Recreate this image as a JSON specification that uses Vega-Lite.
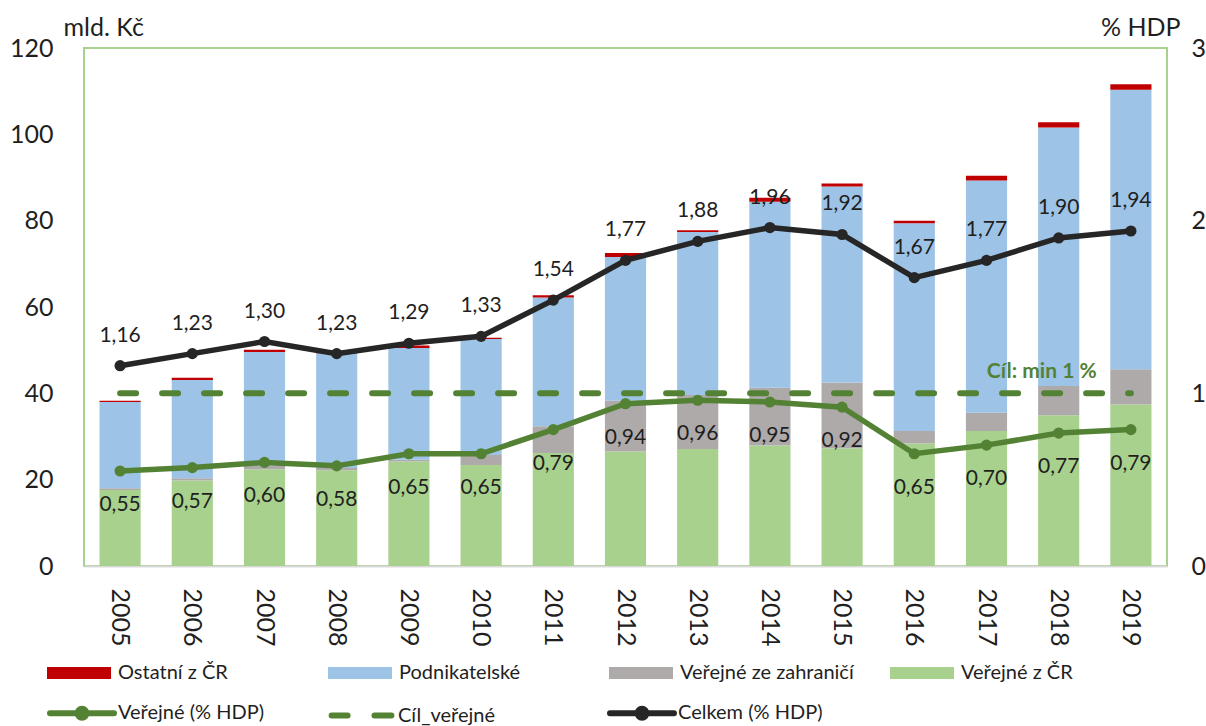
{
  "$schema": "https://vega.github.io/schema/vega-lite/v6.json",
  "width": 1083,
  "height": 518,
  "autosize": {"type": "none"},
  "padding": {"left": 84, "top": 48, "right": 39, "bottom": 160},
  "background": "white",
  "config": {
    "font": "Lato",
    "view": {"stroke": "#a9d18e", "strokeWidth": 2},
    "locale": {"number": {"decimal": ",", "thousands": " ", "grouping": [3], "currency": ["", " Kč"]}},
    "axis": {"labelColor": "#1f1f1f", "titleColor": "#1f1f1f", "labelFont": "Lato", "titleFont": "Lato"},
    "legend": {"labelFont": "Lato", "labelColor": "#1f1f1f", "labelLimit": 400}
  },
  "datasets": {
    "sloupce": [
      {"rok": "2005", "kategorie": "Veřejné z ČR", "hodnota": 17.6},
      {"rok": "2005", "kategorie": "Veřejné ze zahraničí", "hodnota": 0.4},
      {"rok": "2005", "kategorie": "Podnikatelské", "hodnota": 20.0},
      {"rok": "2005", "kategorie": "Ostatní z ČR", "hodnota": 0.3},
      {"rok": "2006", "kategorie": "Veřejné z ČR", "hodnota": 19.8},
      {"rok": "2006", "kategorie": "Veřejné ze zahraničí", "hodnota": 0.5},
      {"rok": "2006", "kategorie": "Podnikatelské", "hodnota": 22.8},
      {"rok": "2006", "kategorie": "Ostatní z ČR", "hodnota": 0.5},
      {"rok": "2007", "kategorie": "Veřejné z ČR", "hodnota": 22.4},
      {"rok": "2007", "kategorie": "Veřejné ze zahraničí", "hodnota": 0.8},
      {"rok": "2007", "kategorie": "Podnikatelské", "hodnota": 26.4},
      {"rok": "2007", "kategorie": "Ostatní z ČR", "hodnota": 0.5},
      {"rok": "2008", "kategorie": "Veřejné z ČR", "hodnota": 22.2},
      {"rok": "2008", "kategorie": "Veřejné ze zahraničí", "hodnota": 0.5},
      {"rok": "2008", "kategorie": "Podnikatelské", "hodnota": 26.6},
      {"rok": "2008", "kategorie": "Ostatní z ČR", "hodnota": 0.1},
      {"rok": "2009", "kategorie": "Veřejné z ČR", "hodnota": 24.2},
      {"rok": "2009", "kategorie": "Veřejné ze zahraničí", "hodnota": 0.4},
      {"rok": "2009", "kategorie": "Podnikatelské", "hodnota": 25.9},
      {"rok": "2009", "kategorie": "Ostatní z ČR", "hodnota": 0.6},
      {"rok": "2010", "kategorie": "Veřejné z ČR", "hodnota": 23.4},
      {"rok": "2010", "kategorie": "Veřejné ze zahraničí", "hodnota": 2.3},
      {"rok": "2010", "kategorie": "Podnikatelské", "hodnota": 26.9},
      {"rok": "2010", "kategorie": "Ostatní z ČR", "hodnota": 0.3},
      {"rok": "2011", "kategorie": "Veřejné z ČR", "hodnota": 26.2},
      {"rok": "2011", "kategorie": "Veřejné ze zahraničí", "hodnota": 6.2},
      {"rok": "2011", "kategorie": "Podnikatelské", "hodnota": 29.8},
      {"rok": "2011", "kategorie": "Ostatní z ČR", "hodnota": 0.5},
      {"rok": "2012", "kategorie": "Veřejné z ČR", "hodnota": 26.5},
      {"rok": "2012", "kategorie": "Veřejné ze zahraničí", "hodnota": 11.8},
      {"rok": "2012", "kategorie": "Podnikatelské", "hodnota": 33.3},
      {"rok": "2012", "kategorie": "Ostatní z ČR", "hodnota": 0.9},
      {"rok": "2013", "kategorie": "Veřejné z ČR", "hodnota": 27.1},
      {"rok": "2013", "kategorie": "Veřejné ze zahraničí", "hodnota": 12.5},
      {"rok": "2013", "kategorie": "Podnikatelské", "hodnota": 37.8},
      {"rok": "2013", "kategorie": "Ostatní z ČR", "hodnota": 0.4},
      {"rok": "2014", "kategorie": "Veřejné z ČR", "hodnota": 27.9},
      {"rok": "2014", "kategorie": "Veřejné ze zahraničí", "hodnota": 13.4},
      {"rok": "2014", "kategorie": "Podnikatelské", "hodnota": 43.1},
      {"rok": "2014", "kategorie": "Ostatní z ČR", "hodnota": 0.9},
      {"rok": "2015", "kategorie": "Veřejné z ČR", "hodnota": 27.3},
      {"rok": "2015", "kategorie": "Veřejné ze zahraničí", "hodnota": 15.2},
      {"rok": "2015", "kategorie": "Podnikatelské", "hodnota": 45.4},
      {"rok": "2015", "kategorie": "Ostatní z ČR", "hodnota": 0.7},
      {"rok": "2016", "kategorie": "Veřejné z ČR", "hodnota": 28.4},
      {"rok": "2016", "kategorie": "Veřejné ze zahraničí", "hodnota": 2.9},
      {"rok": "2016", "kategorie": "Podnikatelské", "hodnota": 48.1},
      {"rok": "2016", "kategorie": "Ostatní z ČR", "hodnota": 0.6},
      {"rok": "2017", "kategorie": "Veřejné z ČR", "hodnota": 31.3},
      {"rok": "2017", "kategorie": "Veřejné ze zahraničí", "hodnota": 4.2},
      {"rok": "2017", "kategorie": "Podnikatelské", "hodnota": 53.8},
      {"rok": "2017", "kategorie": "Ostatní z ČR", "hodnota": 1.1},
      {"rok": "2018", "kategorie": "Veřejné z ČR", "hodnota": 34.9},
      {"rok": "2018", "kategorie": "Veřejné ze zahraničí", "hodnota": 6.8},
      {"rok": "2018", "kategorie": "Podnikatelské", "hodnota": 59.9},
      {"rok": "2018", "kategorie": "Ostatní z ČR", "hodnota": 1.2},
      {"rok": "2019", "kategorie": "Veřejné z ČR", "hodnota": 37.4},
      {"rok": "2019", "kategorie": "Veřejné ze zahraničí", "hodnota": 8.2},
      {"rok": "2019", "kategorie": "Podnikatelské", "hodnota": 64.7},
      {"rok": "2019", "kategorie": "Ostatní z ČR", "hodnota": 1.3}
    ],
    "krivky": [
      {"rok": "2005", "rada": "Veřejné (% HDP)", "hodnota": 0.55},
      {"rok": "2006", "rada": "Veřejné (% HDP)", "hodnota": 0.57},
      {"rok": "2007", "rada": "Veřejné (% HDP)", "hodnota": 0.60},
      {"rok": "2008", "rada": "Veřejné (% HDP)", "hodnota": 0.58},
      {"rok": "2009", "rada": "Veřejné (% HDP)", "hodnota": 0.65},
      {"rok": "2010", "rada": "Veřejné (% HDP)", "hodnota": 0.65},
      {"rok": "2011", "rada": "Veřejné (% HDP)", "hodnota": 0.79},
      {"rok": "2012", "rada": "Veřejné (% HDP)", "hodnota": 0.94},
      {"rok": "2013", "rada": "Veřejné (% HDP)", "hodnota": 0.96},
      {"rok": "2014", "rada": "Veřejné (% HDP)", "hodnota": 0.95},
      {"rok": "2015", "rada": "Veřejné (% HDP)", "hodnota": 0.92},
      {"rok": "2016", "rada": "Veřejné (% HDP)", "hodnota": 0.65},
      {"rok": "2017", "rada": "Veřejné (% HDP)", "hodnota": 0.70},
      {"rok": "2018", "rada": "Veřejné (% HDP)", "hodnota": 0.77},
      {"rok": "2019", "rada": "Veřejné (% HDP)", "hodnota": 0.79},
      {"rok": "2005", "rada": "Celkem (% HDP)", "hodnota": 1.16},
      {"rok": "2006", "rada": "Celkem (% HDP)", "hodnota": 1.23},
      {"rok": "2007", "rada": "Celkem (% HDP)", "hodnota": 1.30},
      {"rok": "2008", "rada": "Celkem (% HDP)", "hodnota": 1.23},
      {"rok": "2009", "rada": "Celkem (% HDP)", "hodnota": 1.29},
      {"rok": "2010", "rada": "Celkem (% HDP)", "hodnota": 1.33},
      {"rok": "2011", "rada": "Celkem (% HDP)", "hodnota": 1.54},
      {"rok": "2012", "rada": "Celkem (% HDP)", "hodnota": 1.77},
      {"rok": "2013", "rada": "Celkem (% HDP)", "hodnota": 1.88},
      {"rok": "2014", "rada": "Celkem (% HDP)", "hodnota": 1.96},
      {"rok": "2015", "rada": "Celkem (% HDP)", "hodnota": 1.92},
      {"rok": "2016", "rada": "Celkem (% HDP)", "hodnota": 1.67},
      {"rok": "2017", "rada": "Celkem (% HDP)", "hodnota": 1.77},
      {"rok": "2018", "rada": "Celkem (% HDP)", "hodnota": 1.90},
      {"rok": "2019", "rada": "Celkem (% HDP)", "hodnota": 1.94},
      {"rok": "2005", "rada": "Cíl_veřejné", "hodnota": 1},
      {"rok": "2006", "rada": "Cíl_veřejné", "hodnota": 1},
      {"rok": "2007", "rada": "Cíl_veřejné", "hodnota": 1},
      {"rok": "2008", "rada": "Cíl_veřejné", "hodnota": 1},
      {"rok": "2009", "rada": "Cíl_veřejné", "hodnota": 1},
      {"rok": "2010", "rada": "Cíl_veřejné", "hodnota": 1},
      {"rok": "2011", "rada": "Cíl_veřejné", "hodnota": 1},
      {"rok": "2012", "rada": "Cíl_veřejné", "hodnota": 1},
      {"rok": "2013", "rada": "Cíl_veřejné", "hodnota": 1},
      {"rok": "2014", "rada": "Cíl_veřejné", "hodnota": 1},
      {"rok": "2015", "rada": "Cíl_veřejné", "hodnota": 1},
      {"rok": "2016", "rada": "Cíl_veřejné", "hodnota": 1},
      {"rok": "2017", "rada": "Cíl_veřejné", "hodnota": 1},
      {"rok": "2018", "rada": "Cíl_veřejné", "hodnota": 1},
      {"rok": "2019", "rada": "Cíl_veřejné", "hodnota": 1}
    ],
    "popisky": [
      {"rok": "2018", "hodnota": 1, "popis": "Cíl: min 1 %"}
    ]
  },
  "layer": [
    {
      "data": {"name": "sloupce"},
      "transform": [
        {"calculate": "indexof(['Veřejné z ČR', 'Veřejné ze zahraničí', 'Podnikatelské', 'Ostatní z ČR'], datum.kategorie)", "as": "poradi"}
      ],
      "mark": {"type": "bar"},
      "encoding": {
        "x": {
          "field": "rok", "type": "ordinal",
          "scale": {"paddingInner": 0.43, "paddingOuter": 0.215},
          "axis": {"title": null, "labelAngle": 90, "labelAlign": "left", "labelBaseline": "middle", "labelFontSize": 25, "labelPadding": 22, "ticks": false, "tickSize": 0, "domainColor": "#d9d9d9", "domainWidth": 2}
        },
        "y": {
          "field": "hodnota", "type": "quantitative", "aggregate": "sum", "stack": "zero",
          "scale": {"domain": [0, 120], "nice": false},
          "axis": {"title": "mld. Kč", "titleAngle": 0, "titleAlign": "left", "titleBaseline": "middle", "titleX": -21, "titleY": -21, "titleFontSize": 25, "titleFontWeight": "normal", "labelFontSize": 25, "labelPadding": 31, "ticks": false, "tickSize": 0, "domain": false, "grid": false, "values": [0, 20, 40, 60, 80, 100, 120]}
        },
        "fill": {
          "field": "kategorie", "type": "nominal",
          "scale": {"domain": ["Ostatní z ČR", "Podnikatelské", "Veřejné ze zahraničí", "Veřejné z ČR"], "range": ["#c00000", "#9dc3e6", "#aeaaaa", "#a9d18e"]},
          "legend": {"orient": "none", "legendX": -37, "legendY": 593, "direction": "horizontal", "columns": 4, "title": null, "symbolType": "M-1,-0.19H1V0.19H-1Z", "symbolSize": 4096, "symbolStrokeWidth": 0, "symbolOpacity": 1, "labelFontSize": 20, "labelOffset": 7, "labelLimit": 400, "columnPadding": 36, "gridAlign": "all"}
        },
        "order": {"field": "poradi", "type": "quantitative", "sort": "ascending"}
      }
    },
    {
      "data": {"name": "krivky"},
      "encoding": {
        "x": {"field": "rok", "type": "ordinal"},
        "y": {
          "field": "hodnota", "type": "quantitative",
          "scale": {"domain": [0, 3], "nice": false},
          "axis": {"orient": "right", "title": "% HDP", "titleAngle": 0, "titleAlign": "right", "titleBaseline": "middle", "titleX": 13, "titleY": -21, "titleFontSize": 25, "titleFontWeight": "normal", "labelFontSize": 25, "labelPadding": 24, "ticks": false, "tickSize": 0, "domain": false, "grid": false, "values": [0, 1, 2, 3], "format": "d"}
        }
      },
      "layer": [
        {
          "transform": [{"filter": "datum.rada === 'Cíl_veřejné'"}],
          "mark": {"type": "line", "strokeWidth": 6, "strokeDash": [16, 26], "strokeCap": "round"},
          "encoding": {
            "stroke": {
              "field": "rada", "type": "nominal",
              "scale": {"domain": ["Veřejné (% HDP)", "Cíl_veřejné", "Celkem (% HDP)"], "range": ["#548235", "#548235", "#262626"]},
              "legend": {
                "orient": "none", "legendX": -37, "legendY": 630, "direction": "horizontal", "columns": 3, "title": null,
                "symbolSize": 4096, "symbolStrokeWidth": 6, "labelFontSize": 20, "labelOffset": 1, "labelLimit": 400, "columnPadding": 54, "gridAlign": "all",
                "encode": {
                  "symbols": {
                    "update": {
                      "shape": {"signal": "datum.value === 'Cíl_veřejné' ? 'M-0.95,0H-0.45M0.39,0H0.92' : 'M-1,0H1M0.14,0A0.14,0.14,0,1,1,-0.14,0A0.14,0.14,0,1,1,0.14,0'"},
                      "fill": {"signal": "datum.value === 'Celkem (% HDP)' ? '#262626' : '#548235'"},
                      "strokeCap": {"value": "round"},
                      "opacity": {"value": 1}
                    }
                  }
                }
              }
            }
          }
        },
        {
          "transform": [{"filter": "datum.rada !== 'Cíl_veřejné'"}],
          "mark": {"type": "line", "strokeWidth": 5.5},
          "encoding": {
            "stroke": {"field": "rada", "type": "nominal"}
          }
        },
        {
          "transform": [{"filter": "datum.rada !== 'Cíl_veřejné'"}],
          "mark": {"type": "point", "filled": true, "size": 125, "opacity": 1, "shape": "circle"},
          "encoding": {
            "fill": {"condition": {"test": "datum.rada === 'Celkem (% HDP)'", "value": "#262626"}, "value": "#548235"}
          }
        },
        {
          "transform": [{"filter": "datum.rada === 'Celkem (% HDP)'"}],
          "mark": {"type": "text", "fontSize": 21, "baseline": "alphabetic", "align": "center", "dy": -24, "color": "#1f1f1f"},
          "encoding": {"text": {"field": "hodnota", "type": "quantitative", "format": ".2f"}}
        },
        {
          "transform": [{"filter": "datum.rada === 'Veřejné (% HDP)'"}],
          "mark": {"type": "text", "fontSize": 21, "baseline": "alphabetic", "align": "center", "dy": 40, "color": "#1f1f1f"},
          "encoding": {"text": {"field": "hodnota", "type": "quantitative", "format": ".2f"}}
        },
        {
          "data": {"name": "popisky"},
          "mark": {"type": "text", "fontSize": 21, "fontWeight": "bold", "baseline": "alphabetic", "align": "center", "dx": -17, "dy": -15, "color": "#548235"},
          "encoding": {"text": {"field": "popis", "type": "nominal"}}
        }
      ]
    }
  ],
  "resolve": {"scale": {"y": "independent"}}
}
